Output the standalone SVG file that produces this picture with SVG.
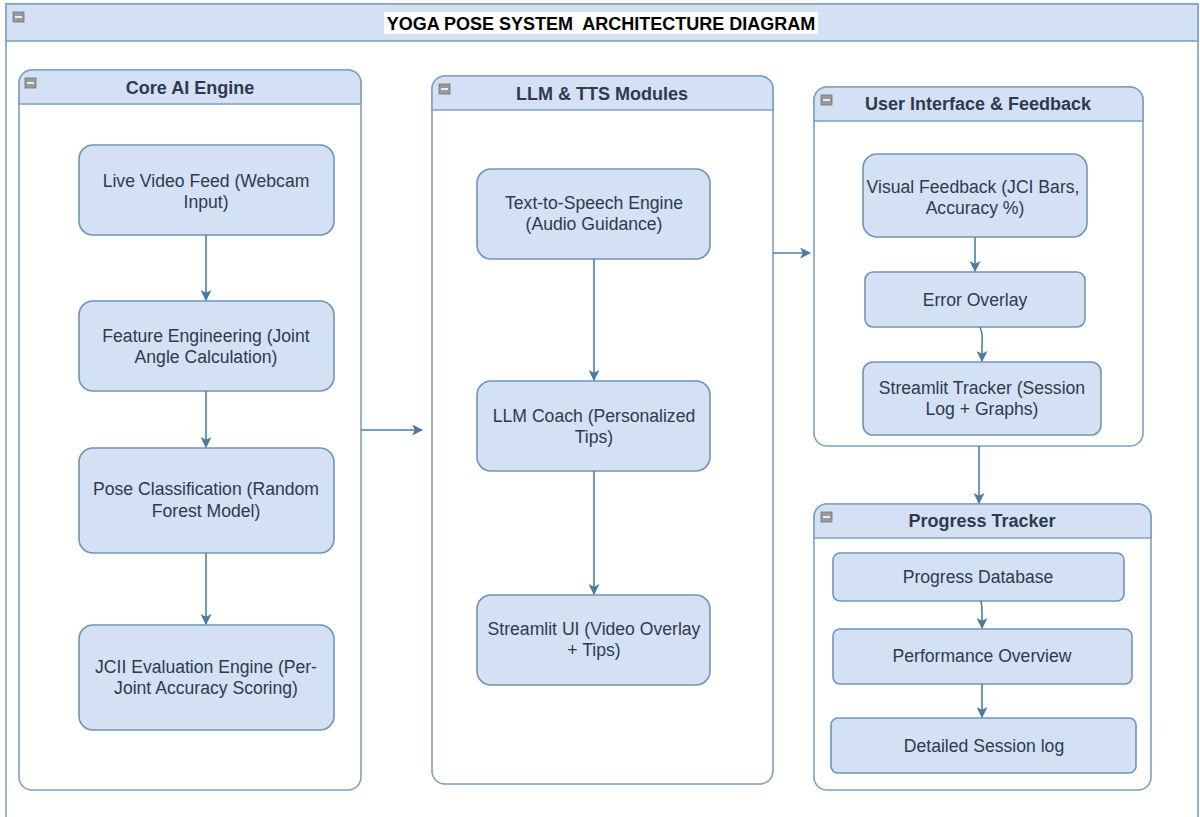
<svg xmlns="http://www.w3.org/2000/svg" width="1200" height="817" viewBox="0 0 1200 817">
<style>
.cont{fill:#ffffff;stroke:#7fa2c0;stroke-width:1.6}
.hdr{fill:#d4e1f5;stroke:#7fa2c0;stroke-width:1.6}
.node{fill:#d4e1f5;stroke:#6f95b5;stroke-width:1.6}
.t{font-family:"Liberation Sans",Arial,sans-serif;font-size:17.6px;fill:#2e3a4e;text-anchor:middle}
.h{font-family:"Liberation Sans",Arial,sans-serif;font-size:18px;font-weight:bold;fill:#2e3a4e;text-anchor:middle}
.e{fill:none;stroke:#4f7f9f;stroke-width:1.6}
.ic{fill:#9a9a9a;stroke:#777;stroke-width:0.8}
</style>
<defs>
<marker id="a" viewBox="0 0 10 10" refX="9" refY="5" markerWidth="11" markerHeight="11" markerUnits="userSpaceOnUse" orient="auto">
<path d="M0,0 L10,5 L0,10 L2.5,5 Z" fill="#4a7b9c"/>
</marker>
<g id="icon"><rect x="0" y="0" width="11" height="10" class="ic"/><rect x="2" y="4.2" width="7" height="1.6" fill="#fff"/></g>
</defs>
<rect width="1200" height="817" fill="#ffffff"/>
<g id="outer">
<rect x="6" y="4" width="1192" height="830" class="cont"/>
<rect x="6" y="4" width="1192" height="37" class="hdr"/>
<use href="#icon" x="13" y="12"/>
<rect x="384" y="12" width="434" height="22" fill="#ffffff"/>
<text x="601" y="29.5" class="h" style="fill:#000;font-size:18px;white-space:pre" xml:space="preserve">YOGA POSE SYSTEM  ARCHITECTURE DIAGRAM</text>
</g>
<g id="core">
<rect x="19" y="70" width="342" height="720" rx="13" class="cont"/>
<path d="M19,104 V83 A13,13 0 0 1 32,70 H348 A13,13 0 0 1 361,83 V104 Z" class="hdr"/>
<use href="#icon" x="25" y="78"/>
<text x="190" y="94" class="h">Core AI Engine</text>
</g>
<g id="llm">
<rect x="432" y="76" width="341" height="708" rx="13" class="cont"/>
<path d="M432,110 V89 A13,13 0 0 1 445,76 H760 A13,13 0 0 1 773,89 V110 Z" class="hdr"/>
<use href="#icon" x="439" y="84"/>
<text x="602" y="100" class="h">LLM &amp; TTS Modules</text>
</g>
<g id="ui">
<rect x="814" y="87" width="329" height="359" rx="13" class="cont"/>
<path d="M814,121 V100 A13,13 0 0 1 827,87 H1130 A13,13 0 0 1 1143,100 V121 Z" class="hdr"/>
<use href="#icon" x="821" y="95"/>
<text x="978" y="110" class="h">User Interface &amp; Feedback</text>
</g>
<g id="progress">
<rect x="814" y="504" width="337" height="286" rx="13" class="cont"/>
<path d="M814,538 V517 A13,13 0 0 1 827,504 H1138 A13,13 0 0 1 1151,517 V538 Z" class="hdr"/>
<use href="#icon" x="821" y="512"/>
<text x="982" y="527" class="h">Progress Tracker</text>
</g>
<g id="n-live"><rect x="79" y="145" width="255" height="90" rx="14" class="node"/><text class="t" x="206" y="187">Live Video Feed (Webcam</text><text class="t" x="206" y="208">Input)</text></g>
<g id="n-feat"><rect x="79" y="301" width="255" height="90" rx="14" class="node"/><text class="t" x="206" y="342">Feature Engineering (Joint</text><text class="t" x="206" y="363">Angle Calculation)</text></g>
<g id="n-pose"><rect x="79" y="448" width="255" height="105" rx="14" class="node"/><text class="t" x="206" y="495">Pose Classification (Random</text><text class="t" x="206" y="517">Forest Model)</text></g>
<g id="n-jcii"><rect x="79" y="625" width="255" height="105" rx="14" class="node"/><text class="t" x="206" y="673">JCII Evaluation Engine (Per-</text><text class="t" x="206" y="694">Joint Accuracy Scoring)</text></g>
<g id="n-tts"><rect x="477" y="169" width="233" height="90" rx="14" class="node"/><text class="t" x="594" y="209">Text-to-Speech Engine</text><text class="t" x="594" y="230">(Audio Guidance)</text></g>
<g id="n-coach"><rect x="477" y="381" width="233" height="90" rx="14" class="node"/><text class="t" x="594" y="422">LLM Coach (Personalized</text><text class="t" x="594" y="443">Tips)</text></g>
<g id="n-sui"><rect x="477" y="595" width="233" height="90" rx="14" class="node"/><text class="t" x="594" y="635">Streamlit UI (Video Overlay</text><text class="t" x="594" y="656">+ Tips)</text></g>
<g id="n-vis"><rect x="863" y="154" width="224" height="83" rx="14" class="node"/><text class="t" x="973" y="193">Visual Feedback (JCI Bars,</text><text class="t" x="975" y="214">Accuracy %)</text></g>
<g id="n-err"><rect x="865" y="272" width="220" height="55" rx="8" class="node"/><text class="t" x="975" y="306">Error Overlay</text></g>
<g id="n-st"><rect x="863" y="362" width="238" height="73" rx="10" class="node"/><text class="t" x="982" y="394">Streamlit Tracker (Session</text><text class="t" x="982" y="415">Log + Graphs)</text></g>
<g id="n-db"><rect x="833" y="553" width="291" height="48" rx="7" class="node"/><text class="t" x="978" y="583">Progress Database</text></g>
<g id="n-perf"><rect x="833" y="629" width="299" height="55" rx="7" class="node"/><text class="t" x="982" y="662">Performance Overview</text></g>
<g id="n-log"><rect x="831" y="718" width="305" height="55" rx="7" class="node"/><text class="t" x="984" y="752">Detailed Session log</text></g>
<g id="connectors">
<path class="e" d="M206,235 V300" marker-end="url(#a)"/>
<path class="e" d="M206,391 V447" marker-end="url(#a)"/>
<path class="e" d="M206,553 V624" marker-end="url(#a)"/>
<path class="e" d="M594,259 V380" marker-end="url(#a)"/>
<path class="e" d="M594,471 V594" marker-end="url(#a)"/>
<path class="e" d="M361,430 H422" marker-end="url(#a)"/>
<path class="e" d="M773,253 H810" marker-end="url(#a)"/>
<path class="e" d="M975,237 V271" marker-end="url(#a)"/>
<path class="e" d="M980,327 Q983,334 982,344 V361" marker-end="url(#a)"/>
<path class="e" d="M979,446 V503" marker-end="url(#a)"/>
<path class="e" d="M981,601 Q982,606 982,612 V628" marker-end="url(#a)"/>
<path class="e" d="M982,684 V717" marker-end="url(#a)"/>
</g>
</svg>
